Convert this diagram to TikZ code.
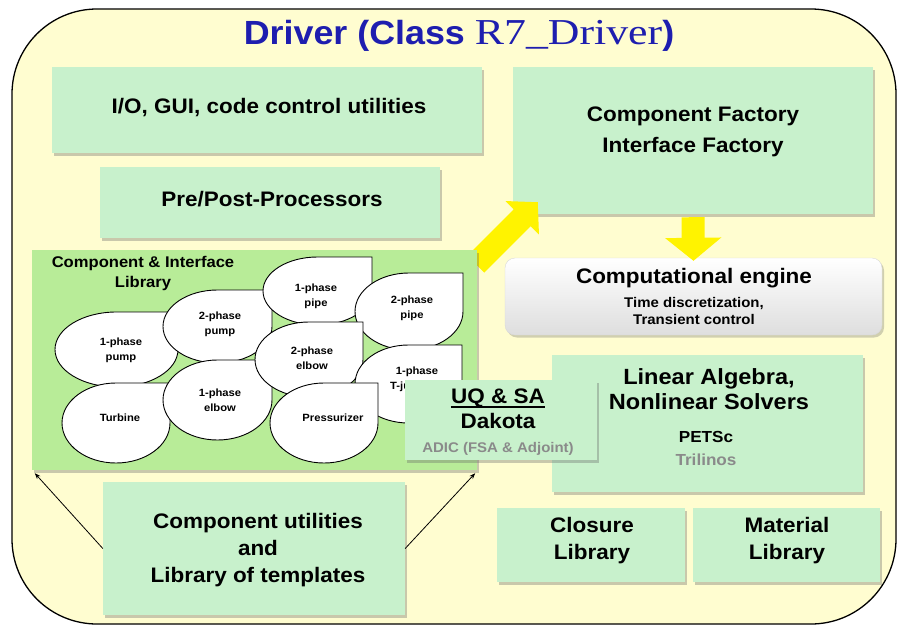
\documentclass[tikz,border=0pt]{standalone}
\usepackage{fontspec}
\setmainfont[FakeStretch=1.07]{Liberation Sans}
\newfontfamily\titleserif[FakeStretch=1.2]{Liberation Serif}
\usetikzlibrary{shadows,arrows.meta,calc}

\definecolor{cream}{RGB}{255,253,208}
\definecolor{mint}{RGB}{200,241,204}
\definecolor{libgreen}{RGB}{184,236,152}
\definecolor{titleblue}{RGB}{30,30,175}
\definecolor{ygold}{RGB}{255,243,0}
\definecolor{softgrey}{RGB}{138,138,138}

\tikzset{
  box/.style={fill=mint, draw=none, inner sep=0pt,
    drop shadow={shadow xshift=2pt, shadow yshift=-2.5pt, opacity=0.35, fill=black!60}},
  libbox/.style={box, fill=libgreen},
  enginebox/.style={inner sep=0pt, rounded corners=10pt, draw=black!15,
    top color=white, bottom color=black!13,
    drop shadow={shadow xshift=2pt, shadow yshift=-2.5pt, opacity=0.3, fill=black!60}},
  txt/.style={inner sep=0pt, align=center, font=\bfseries\fontsize{21}{27}\selectfont},
  blobtxt/.style={inner sep=0pt, align=center, font=\bfseries\fontsize{10.5}{15}\selectfont},
  leafline/.style={fill=white, draw=black, line width=0.9pt},
  thinarrow/.style={draw=black, line width=0.8pt, -{Stealth[length=6pt,width=4.5pt]}},
  yarrow/.style={draw=ygold, line width=24pt, -{Triangle[length=22pt,width=46pt]}}
}

% teardrop: ellipse with a square top-right corner; centre, x radius, y radius
\newcommand\leafshape[4]{%
  \begin{scope}[shift={(#1,#2)}, xscale=#3, yscale=#4]
    \path[leafline] (0,-1) -- (1,-1) -- (1,0)
      .. controls (1,0.5523) and (0.5523,1) .. (0,1)
      .. controls (-0.5523,1) and (-1,0.5523) .. (-1,0)
      .. controls (-1,-0.5523) and (-0.5523,-1) .. (0,-1) -- cycle;
  \end{scope}}

\begin{document}
\begin{tikzpicture}[x=1pt, y=-1pt]
\useasboundingbox (0,0) rectangle (898,627);
\fill[white] (0,0) rectangle (898,627);

% driver frame
\draw[fill=cream, line width=1.3pt, rounded corners=85pt] (12,9) rectangle (896,624);

\node[inner sep=0pt, text=titleblue] (title) at (459,36)
  {\bfseries\fontsize{33.5}{38}\selectfont Driver (Class {\titleserif\mdseries\fontsize{36.5}{40}\selectfont R7\_Driver})};

% upper-left boxes
\node[box, minimum width=430pt, minimum height=86pt] (io) at (267,110) {};
\node[txt] (iot) at (269,108) {I/O, GUI, code control utilities};
\node[box, minimum width=340pt, minimum height=71pt] (pp) at (270,202.5) {};
\node[txt] (ppt) at (272,199) {Pre/Post-Processors};

% factory
\node[box, minimum width=360pt, minimum height=147pt] (fac) at (693,140.5) {};
\node[txt, font=\bfseries\fontsize{21}{31}\selectfont] (fact) at (693,132) {Component Factory\\Interface Factory};

% arrow from library to factory (tail hidden under the library)
\draw[yarrow] ($(fac.south west)+(-37,50)$) -- ($(fac.south west)+(25,-12)$);

% component & interface library
\node[libbox, minimum width=445pt, minimum height=220pt] (lib) at (254.5,360) {};
\node[inner sep=0pt, align=center, font=\bfseries\fontsize{15.5}{20}\selectfont] (libt) at (143,273)
  {Component \& Interface\\Library};

\leafshape{116.5}{349.5}{61.5}{37.5}
\leafshape{116}{423}{54}{40}
\leafshape{217.5}{326.5}{54.5}{36.5}
\leafshape{217.5}{400}{54.5}{40}
\leafshape{317.5}{291}{54.5}{34}
\leafshape{409}{311.5}{54}{38.5}
\leafshape{309}{359.5}{54}{37.5}
\leafshape{408.5}{384}{53.5}{39}
\leafshape{324}{423}{54}{40}

\node[blobtxt] (b1) at (121,350) {1-phase\\pump};
\node[blobtxt] (b2) at (120,418) {Turbine};
\node[blobtxt] (b3) at (220,324) {2-phase\\pump};
\node[blobtxt] (b4) at (220,400) {1-phase\\elbow};
\node[blobtxt] (b5) at (316,296) {1-phase\\pipe};
\node[blobtxt] (b6) at (412,308) {2-phase\\pipe};
\node[blobtxt] (b7) at (312,358) {2-phase\\elbow};
\node[blobtxt] (b8) at (417,379) {1-phase\\T-junction};
\node[blobtxt] (b9) at (333,418) {Pressurizer};

% computational engine
\node[enginebox, minimum width=377pt, minimum height=77pt] (eng) at (693.5,296.5) {};
\node[txt] (engt) at (694,278) {Computational engine};
\node[txt, font=\bfseries\fontsize{14}{17}\selectfont] (engs) at (694,310.5) {Time discretization,\\Transient control};
\draw[yarrow, line width=23pt, -{Triangle[length=23pt,width=55pt]}] ($(fac.south)+(0,3)$) -- ($(eng.north)+(0,3)$);

% solvers
\node[box, minimum width=311pt, minimum height=137pt] (la) at (707.5,423.5) {};
\node[txt, font=\bfseries\fontsize{22}{25}\selectfont] (lat) at (709,389) {Linear Algebra,\\Nonlinear Solvers};
\node[txt, font=\bfseries\fontsize{16}{19}\selectfont] (pet) at (706,437) {PETSc};
\node[txt, font=\bfseries\fontsize{16}{19}\selectfont, text=softgrey] (tri) at (706,460) {Trilinos};

% UQ & SA, lying over the library and the solvers
\node[box, minimum width=192pt, minimum height=80pt] (uq) at (501,420) {};
\node[txt, anchor=base] (uq1) at (498,403) {UQ \& SA};
\draw[line width=1.3pt] ($(uq1.base west)+(0,4)$) -- ($(uq1.base east)+(0,4)$);
\node[txt, anchor=base] (uq2) at (498,428) {Dakota};
\node[txt, anchor=base, font=\bfseries\fontsize{14}{17}\selectfont, text=softgrey] (uq3) at (498,452) {ADIC (FSA \& Adjoint)};

% closure / material libraries
\node[box, minimum width=188pt, minimum height=74pt] (clo) at (591,545) {};
\node[txt] (clot) at (592,541) {Closure\\Library};
\node[box, minimum width=187pt, minimum height=74pt] (mat) at (786.5,545) {};
\node[txt] (matt) at (787,541) {Material\\Library};

% component utilities
\node[box, minimum width=302pt, minimum height=133pt] (cu) at (254,548.5) {};
\node[txt] (cut) at (258,550) {Component utilities\\and\\Library of templates};

\draw[thinarrow] (cu.west) -- ($(lib.south west)+(3,3)$);
\draw[thinarrow] (cu.east) -- ($(lib.south east)+(-2,3)$);
\end{tikzpicture}
\end{document}
